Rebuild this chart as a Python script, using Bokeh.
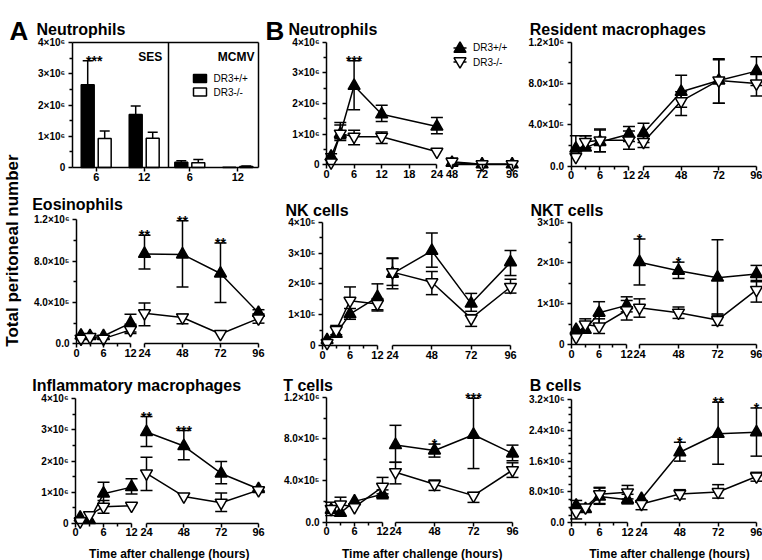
import math
import numpy as np
from bokeh.plotting import figure
from bokeh.models import Range1d, LinearAxis, FixedTicker
from bokeh.core.properties import value
from bokeh.embed import file_html
from bokeh.resources import INLINE

FONT = "Liberation Sans"
N = None

# ------------------------------------------------------------------ data
series_labels = ["DR3+/+", "DR3-/-"]

# Panel A: neutrophils, bars (SES | MCMV), hours 6 and 12
a_tick_labels = ["6", "12", "6", "12"]
a_wt = [2.65e6, 1.70e6, 0.17e6, 0.01e6]
a_wt_hi = [3.42e6, 1.97e6, 0.22e6, N]
a_ko = [0.93e6, 0.94e6, 0.15e6, 0.03e6]
a_ko_hi = [1.17e6, 1.13e6, 0.26e6, 0.05e6]
a_sig = {0: "***"}

t_early = [1, 3, 6, 12]
t_late = [24, 48, 72, 96]
nb_t_early = [1, 3, 6, 12, 24]
nb_t_late = [48, 72, 96]

# Neutrophils (B)
nb_wt = [0.27e6, 1.01e6, 2.58e6, 1.65e6, 1.25e6, 0.07e6, 0.02e6, 0.02e6]
nb_wt_hi = [0.36e6, 1.38e6, 3.40e6, 1.95e6, 1.55e6, N, N, N]
nb_wt_lo = [0.18e6, 0.85e6, 1.80e6, 1.42e6, 1.02e6, N, N, N]
nb_ko = [0.08e6, 1.02e6, 0.92e6, 0.92e6, 0.43e6, 0.10e6, 0.02e6, 0.02e6]
nb_ko_hi = [N, 1.30e6, 1.13e6, 1.07e6, N, 0.22e6, N, N]
nb_ko_lo = [N, 0.80e6, 0.66e6, 0.70e6, N, N, N, N]
nb_sig = {6: "***"}

# Resident macrophages
rm_wt = [1.70e5, 1.80e5, 2.35e5, 3.10e5, 3.20e5, 7.20e5, 8.30e5, 9.20e5]
rm_wt_hi = [2.95e5, 2.95e5, 3.50e5, 3.85e5, 4.15e5, 8.80e5, 10.4e5, 10.6e5]
rm_wt_lo = [N, N, 1.40e5, 2.40e5, 2.30e5, 5.70e5, 6.10e5, 7.80e5]
rm_ko = [0.90e5, 2.35e5, 2.50e5, 2.50e5, 2.35e5, 6.30e5, 8.30e5, 8.00e5]
rm_ko_hi = [N, 2.95e5, 3.60e5, 3.40e5, 3.00e5, 7.20e5, 10.3e5, 9.00e5]
rm_ko_lo = [N, 1.80e5, 1.40e5, 1.65e5, 1.80e5, 4.90e5, 6.10e5, 6.80e5]
rm_sig = {}

# Eosinophils
eo_wt = [0.80e5, 0.75e5, 0.75e5, 2.00e5, 8.70e5, 8.65e5, 6.80e5, 3.00e5]
eo_wt_hi = [N, N, N, 2.85e5, 10.5e5, 11.9e5, 9.75e5, 3.30e5]
eo_wt_lo = [N, N, N, 1.15e5, 7.25e5, 5.50e5, 4.00e5, 2.70e5]
eo_ko = [0.50e5, 0.65e5, 0.50e5, 1.35e5, 2.95e5, 2.55e5, 0.95e5, 2.45e5]
eo_ko_hi = [N, N, N, 1.90e5, 3.95e5, 2.85e5, N, 2.90e5]
eo_ko_lo = [N, N, N, 1.00e5, 1.75e5, 1.95e5, N, 2.00e5]
eo_sig = {24: "**", 48: "**", 72: "**"}

# NK cells
nk_wt = [0.18e5, 0.38e5, 1.02e5, 1.57e5, 2.33e5, 3.07e5, 1.36e5, 2.70e5]
nk_wt_hi = [N, 0.60e5, 1.20e5, 2.00e5, 2.84e5, 3.65e5, 1.69e5, 3.08e5]
nk_wt_lo = [N, N, 0.85e5, 1.16e5, 1.84e5, 2.54e5, 1.11e5, 2.27e5]
nk_ko = [0.08e5, 0.50e5, 1.45e5, 1.35e5, 2.38e5, 2.05e5, 0.88e5, 1.90e5]
nk_ko_hi = [N, 0.65e5, 1.90e5, 1.52e5, 2.82e5, 2.40e5, 1.00e5, 2.15e5]
nk_ko_lo = [N, 0.35e5, 0.92e5, 1.12e5, 1.95e5, 1.65e5, 0.62e5, 1.70e5]
nk_sig = {}

# NKT cells
nkt_wt = [0.36e5, 0.36e5, 0.78e5, 0.96e5, 2.02e5, 1.81e5, 1.64e5, 1.73e5]
nkt_wt_hi = [N, N, 1.05e5, 1.17e5, 2.59e5, 2.02e5, 2.57e5, 1.94e5]
nkt_wt_lo = [N, N, 0.50e5, 0.80e5, 1.46e5, 1.62e5, 0.72e5, 1.54e5]
nkt_ko = [0.18e5, 0.49e5, 0.44e5, 0.84e5, 0.90e5, 0.78e5, 0.60e5, 1.34e5]
nkt_ko_hi = [N, 0.63e5, 0.63e5, 1.08e5, 1.12e5, 0.92e5, 0.75e5, 1.57e5]
nkt_ko_lo = [N, N, 0.27e5, 0.60e5, 0.67e5, 0.64e5, 0.47e5, 1.04e5]
nkt_sig = {24: "*", 48: "*"}

# Inflammatory macrophages
im_wt = [0.18e6, 0.10e6, 0.95e6, 1.16e6, 2.93e6, 2.48e6, 1.60e6, 1.10e6]
im_wt_hi = [N, N, 1.32e6, 1.43e6, 3.43e6, 2.98e6, 1.98e6, 1.15e6]
im_wt_lo = [N, N, 0.62e6, 0.94e6, 2.47e6, 2.04e6, 1.27e6, 1.05e6]
im_ko = [0.06e6, 0.26e6, 0.53e6, 0.56e6, 1.60e6, 0.86e6, 0.66e6, 1.06e6]
im_ko_hi = [N, N, 0.73e6, N, 2.12e6, N, 0.97e6, N]
im_ko_lo = [N, N, 0.32e6, N, 1.05e6, N, 0.38e6, N]
im_sig = {24: "**", 48: "***"}

# T cells
tc_wt = [1.18e5, 0.90e5, 2.00e5, 2.68e5, 7.40e5, 6.88e5, 8.40e5, 6.60e5]
tc_wt_hi = [N, N, N, 3.10e5, 9.30e5, 7.50e5, 11.9e5, 7.40e5]
tc_wt_lo = [N, N, N, 2.25e5, 5.75e5, 6.25e5, 5.15e5, 5.90e5]
tc_ko = [1.28e5, 1.70e5, 1.45e5, 3.40e5, 4.80e5, 3.65e5, 2.55e5, 5.00e5]
tc_ko_hi = [1.92e5, 2.40e5, N, 4.30e5, 5.75e5, 4.05e5, 2.85e5, 5.70e5]
tc_ko_lo = [0.64e5, N, N, 2.72e5, 3.68e5, 3.05e5, 1.90e5, 4.30e5]
tc_sig = {48: "*", 72: "***"}

# B cells
bc_wt = [0.45e6, 0.36e6, 0.68e6, 0.60e6, 0.62e6, 1.83e6, 2.31e6, 2.35e6]
bc_wt_hi = [0.58e6, N, 0.90e6, 0.74e6, N, 2.09e6, 3.13e6, 2.98e6]
bc_wt_lo = [N, N, 0.48e6, 0.49e6, N, 1.60e6, 1.52e6, 1.73e6]
bc_ko = [0.28e6, 0.40e6, 0.74e6, 0.79e6, 0.49e6, 0.75e6, 0.80e6, 1.20e6]
bc_ko_hi = [N, N, 0.92e6, 0.97e6, N, 0.86e6, 0.99e6, 1.31e6]
bc_ko_lo = [0.10e6, N, 0.50e6, 0.62e6, 0.34e6, 0.62e6, 0.64e6, 1.08e6]
bc_sig = {48: "*", 72: "**", 96: "*"}

# axis ticks / labels
x_early_ticks = [0, 6, 12]
x_early_minor = [3, 9]
x_late_ticks = [24, 48, 72, 96]
nb_x_early_ticks = [0, 6, 12, 18, 24]
nb_x_late_ticks = [48, 72, 96]

y6_ticks = [0, 1e6, 2e6, 3e6, 4e6]
y6_labels = ["0", "1×10⁶", "2×10⁶", "3×10⁶", "4×10⁶"]
y12_ticks = [0, 4e5, 8e5, 1.2e6]
y12_labels = ["0.0", "4.0×10⁵", "8.0×10⁵", "1.2×10⁶"]
nk_ticks = [0, 1e5, 2e5, 3e5, 4e5]
nk_labels = ["0", "1×10⁵", "2×10⁵", "3×10⁵", "4×10⁵"]
nkt_ticks = [0, 1e5, 2e5, 3e5]
nkt_labels = ["0", "1×10⁵", "2×10⁵", "3×10⁵"]
bc_ticks = [0, 8e5, 1.6e6, 2.4e6, 3.2e6]
bc_labels = ["0.0", "8.0×10⁵", "1.6×10⁶", "2.4×10⁶", "3.2×10⁶"]

# ------------------------------------------------------------------ layout
W, H = 762, 560
PX0, PX1, PY0, PY1 = 0, 762, 560, 0   # picture pixel coordinates of the canvas

p = figure(width=W, height=H, output_backend="svg", toolbar_location=None,
           x_range=Range1d(PX0, PX1), y_range=Range1d(PY0, PY1),
           x_axis_type=None, y_axis_type=None, title=None,
           min_border=0, outline_line_color=None)
p.background_fill_color = "white"
p.border_fill_color = "white"

LW = 1.5


def style_axis(axis, size):
    axis.axis_line_color = "black"
    axis.axis_line_width = LW
    axis.major_tick_line_color = "black"
    axis.major_tick_line_width = LW
    axis.minor_tick_line_color = "black"
    axis.minor_tick_line_width = LW
    axis.major_tick_in = 0
    axis.major_tick_out = 4
    axis.minor_tick_in = 0
    axis.minor_tick_out = 3
    axis.major_label_text_font = FONT
    axis.major_label_text_font_style = "bold"
    axis.major_label_text_font_size = size
    axis.major_label_text_color = "black"


def page_text(x, y, s, size, bold=True, align="left", baseline="alphabetic", angle=0.0):
    p.text(x=[x], y=[y], text=[s], text_font=value(FONT),
           text_font_style="bold" if bold else "normal", text_font_size=size,
           text_align=align, text_baseline=baseline, text_color="black", angle=angle)


def yrange_for(zero, top, vmax):
    s = (zero - top) / vmax
    return Range1d(-(PY0 - zero) / s, (zero - PY1) / s)


def y_axis(xr, yr, ticks, labels, minor_step, vmax):
    minor = [m for m in np.arange(minor_step, vmax, minor_step)
             if all(abs(m - t) > minor_step * 0.01 for t in ticks)]
    ax = LinearAxis(x_range_name=xr, y_range_name=yr, fixed_location=0,
                    bounds=(0, vmax),
                    ticker=FixedTicker(ticks=[float(t) for t in ticks], minor_ticks=[float(m) for m in minor]),
                    major_label_overrides={float(t): l for t, l in zip(ticks, labels)})
    style_axis(ax, "10px")
    ax.major_label_standoff = 3
    p.add_layout(ax, "left")


# ------------------------------------------------------------------ panel A (bars)
A = dict(ax=71.7, unit=24.0, zero=167.0, top=42.0, vmax=4e6)
A_GROUP_X = [1.0, 3.0, 4.9, 6.9]
A_DIV, A_RIGHT, A_OFF, A_BW = 4.0, 7.78, 0.354, 0.54
p.extra_x_ranges["A_x"] = Range1d((PX0 - A["ax"]) / A["unit"], (PX1 - A["ax"]) / A["unit"])
p.extra_y_ranges["A_y"] = yrange_for(A["zero"], A["top"], A["vmax"])
kwA = dict(x_range_name="A_x", y_range_name="A_y")

for vals, hi, off, fill in [(a_wt, a_wt_hi, -A_OFF, "black"), (a_ko, a_ko_hi, A_OFF, "white")]:
    xs = [g + off for g in A_GROUP_X]
    p.vbar(x=xs, width=A_BW, top=vals, bottom=0, fill_color=fill, line_color="black",
           line_width=LW, **kwA)
    ex = [x for x, h in zip(xs, hi) if h is not None]
    ey0 = [v for v, h in zip(vals, hi) if h is not None]
    ey1 = [h for h in hi if h is not None]
    p.segment(x0=ex, y0=ey0, x1=ex, y1=ey1, line_color="black", line_width=LW, **kwA)
    p.scatter(x=ex, y=ey1, marker="dash", size=10, line_color="black", line_width=LW, **kwA)

for i, s in a_sig.items():
    p.text(x=[A_GROUP_X[i]], y=[a_wt_hi[i]], text=[s], text_font=value(FONT), text_font_style="bold",
           text_font_size="14px", text_align="center", text_baseline="alphabetic", x_offset=-2, **kwA)

ya = LinearAxis(fixed_location=0, bounds=(0, A["vmax"]),
                ticker=FixedTicker(ticks=[float(t) for t in y6_ticks],
                                   minor_ticks=[0.5e6, 1.5e6, 2.5e6, 3.5e6]),
                major_label_overrides={float(t): l for t, l in zip(y6_ticks, y6_labels)}, **kwA)
style_axis(ya, "10px")
ya.major_label_standoff = 3
p.add_layout(ya, "left")
xa = LinearAxis(fixed_location=0, bounds=(0, A_RIGHT),
                ticker=FixedTicker(ticks=A_GROUP_X),
                major_label_overrides={g: l for g, l in zip(A_GROUP_X, a_tick_labels)}, **kwA)
style_axis(xa, "11px")
xa.major_label_standoff = 1
p.add_layout(xa, "below")
top_a = LinearAxis(fixed_location=A["vmax"], bounds=(0, A_RIGHT), ticker=FixedTicker(ticks=[]), **kwA)
style_axis(top_a, "10px")
p.add_layout(top_a, "above")
for loc in (A_DIV, A_RIGHT):
    ra = LinearAxis(fixed_location=loc, bounds=(0, A["vmax"]), ticker=FixedTicker(ticks=[]), **kwA)
    style_axis(ra, "10px")
    p.add_layout(ra, "right")

page_text(9, 30, "A", "26px")
page_text(36, 29.3, "Neutrophils", "16px")
page_text(161.7, 56, "SES", "12px", align="right")
page_text(254, 56, "MCMV", "12px", align="right")
# legend A
p.rect(x=[199.5, 199.5], y=[78, 91.5], width=13, height=8, width_units="screen",
       height_units="screen", fill_color=["black", "white"], line_color="black", line_width=LW)
page_text(213, 78, series_labels[0], "10px", bold=False, baseline="middle")
page_text(213, 91.5, series_labels[1], "10px", bold=False, baseline="middle")

# ------------------------------------------------------------------ line panels
PANELS = {
    "nb": dict(title="Neutrophils", tx=288.0, ty=29.3, ax=326.0, a=4.6, xl=451.5, b=1.254, zero=164.4, top=41.8),
    "rm": dict(title="Resident macrophages", tx=529.3, ty=29.3, ax=570.5, a=4.83, xl=643.0, b=1.569, zero=165.7, top=41.7),
    "eo": dict(title="Eosinophils", tx=31.7, ty=204.0, ax=76.0, a=4.5, xl=144.0, b=1.583, zero=343.3, top=219.3),
    "nk": dict(title="NK cells", tx=285.0, ty=210.0, ax=322.0, a=4.58, xl=392.0, b=1.639, zero=345.0, top=221.7),
    "nkt": dict(title="NKT cells", tx=530.0, ty=210.0, ax=571.0, a=4.6, xl=639.0, b=1.625, zero=344.0, top=221.7),
    "im": dict(title="Inflammatory macrophages", tx=31.7, ty=385.0, ax=75.0, a=4.67, xl=146.0, b=1.556, zero=522.7, top=398.3),
    "tc": dict(title="T cells", tx=282.7, ty=385.0, ax=326.0, a=4.67, xl=395.0, b=1.625, zero=521.7, top=396.7),
    "bc": dict(title="B cells", tx=529.3, ty=385.0, ax=571.0, a=4.67, xl=641.0, b=1.597, zero=522.3, top=399.0),
}

DATA = {
    "nb": (nb_t_early, nb_t_late, nb_wt, nb_wt_hi, nb_wt_lo, nb_ko, nb_ko_hi, nb_ko_lo, nb_sig,
           y6_ticks, y6_labels, 5e5, nb_x_early_ticks, [], nb_x_late_ticks),
    "rm": (t_early, t_late, rm_wt, rm_wt_hi, rm_wt_lo, rm_ko, rm_ko_hi, rm_ko_lo, rm_sig,
           y12_ticks, y12_labels, 2e5, x_early_ticks, x_early_minor, x_late_ticks),
    "eo": (t_early, t_late, eo_wt, eo_wt_hi, eo_wt_lo, eo_ko, eo_ko_hi, eo_ko_lo, eo_sig,
           y12_ticks, y12_labels, 2e5, x_early_ticks, x_early_minor, x_late_ticks),
    "nk": (t_early, t_late, nk_wt, nk_wt_hi, nk_wt_lo, nk_ko, nk_ko_hi, nk_ko_lo, nk_sig,
           nk_ticks, nk_labels, 5e4, x_early_ticks, x_early_minor, x_late_ticks),
    "nkt": (t_early, t_late, nkt_wt, nkt_wt_hi, nkt_wt_lo, nkt_ko, nkt_ko_hi, nkt_ko_lo, nkt_sig,
            nkt_ticks, nkt_labels, 5e4, x_early_ticks, x_early_minor, x_late_ticks),
    "im": (t_early, t_late, im_wt, im_wt_hi, im_wt_lo, im_ko, im_ko_hi, im_ko_lo, im_sig,
           y6_ticks, y6_labels, 5e5, x_early_ticks, x_early_minor, x_late_ticks),
    "tc": (t_early, t_late, tc_wt, tc_wt_hi, tc_wt_lo, tc_ko, tc_ko_hi, tc_ko_lo, tc_sig,
           y12_ticks, y12_labels, 2e5, x_early_ticks, x_early_minor, x_late_ticks),
    "bc": (t_early, t_late, bc_wt, bc_wt_hi, bc_wt_lo, bc_ko, bc_ko_hi, bc_ko_lo, bc_sig,
           bc_ticks, bc_labels, 2e5, x_early_ticks, x_early_minor, x_late_ticks),
}


def draw_series(kw, xs, n_early, mean, hi, lo, marker, fill):
    seg_lo = [l if l is not None else m for l, m in zip(lo, mean)]
    seg_hi = [h if h is not None else m for h, m in zip(hi, mean)]
    p.segment(x0=xs, y0=seg_lo, x1=xs, y1=seg_hi, line_color="black", line_width=LW, **kw)
    cx = [x for x, h in zip(xs, hi) if h is not None] + [x for x, l in zip(xs, lo) if l is not None]
    cy = [h for h in hi if h is not None] + [l for l in lo if l is not None]
    if cx:
        p.scatter(x=cx, y=cy, marker="dash", size=12, line_color="black", line_width=LW, **kw)
    p.line(x=xs[:n_early], y=mean[:n_early], line_color="black", line_width=LW, **kw)
    p.line(x=xs[n_early:], y=mean[n_early:], line_color="black", line_width=LW, **kw)
    p.scatter(x=xs, y=mean, marker=marker, size=12, fill_color=fill, line_color="black",
              line_width=LW, **kw)


for key, L in PANELS.items():
    (te, tl, wt, wt_hi, wt_lo, ko, ko_hi, ko_lo, sig,
     yt, yl, ystep, xte, xtm, xtl) = DATA[key]
    vmax = yt[-1]
    early_end, late_start = xte[-1], xtl[0]

    def u(t, L=L, early_end=early_end, late_start=late_start):
        if t <= early_end:
            return round(L["a"] * t, 3)
        return round(L["xl"] - L["ax"] + L["b"] * (t - late_start), 3)

    xr, yr = key + "_x", key + "_y"
    p.extra_x_ranges[xr] = Range1d(PX0 - L["ax"], PX1 - L["ax"])
    p.extra_y_ranges[yr] = yrange_for(L["zero"], L["top"], vmax)
    kw = dict(x_range_name=xr, y_range_name=yr)

    times = te + tl
    xs = [u(t) for t in times]
    draw_series(kw, xs, len(te), wt, wt_hi, wt_lo, "triangle", "black")
    draw_series(kw, xs, len(te), ko, ko_hi, ko_lo, "inverted_triangle", "white")

    for t, s in sig.items():
        i = times.index(t)
        p.text(x=[u(t)], y=[wt_hi[i]], text=[s], text_font=value(FONT), text_font_style="bold",
               text_font_size="14px", text_align="center", text_baseline="alphabetic", **kw)

    y_axis(xr, yr, yt, yl, ystep, vmax)
    for ticks, minor in ((xte, xtm), (xtl, [])):
        tk = [u(t) for t in ticks]
        axx = LinearAxis(fixed_location=0, bounds=(tk[0], tk[-1]),
                         ticker=FixedTicker(ticks=tk, minor_ticks=[u(m) for m in minor]),
                         major_label_overrides={k: str(t) for k, t in zip(tk, ticks)}, **kw)
        style_axis(axx, "11px")
        axx.major_label_standoff = 1
        p.add_layout(axx, "below")

    page_text(L["tx"], L["ty"], L["title"], "16px")

# legend B (neutrophils time course)
page_text(265, 30, "B", "26px")
p.segment(x0=[453, 453], y0=[47.5, 61.5], x1=[466, 466], y1=[47.5, 61.5], line_color="black", line_width=LW)
p.scatter(x=[459.5], y=[48.4], marker="triangle", size=12, fill_color="black", line_color="black", line_width=LW)
p.scatter(x=[459.5], y=[60.8], marker="inverted_triangle", size=12, fill_color="white", line_color="black", line_width=LW)
page_text(472.5, 46.7, series_labels[0], "10px", bold=False, baseline="middle")
page_text(472.5, 62.3, series_labels[1], "10px", bold=False, baseline="middle")

# axis titles
for cx in (168.8, 421.7, 669.0):
    page_text(cx, 553, "Time after challenge (hours)", "12px", align="center")
page_text(12, 250, "Total peritoneal number", "17px", align="center", baseline="middle", angle=math.pi / 2)

open("out.html", "w").write(file_html(p, INLINE))
